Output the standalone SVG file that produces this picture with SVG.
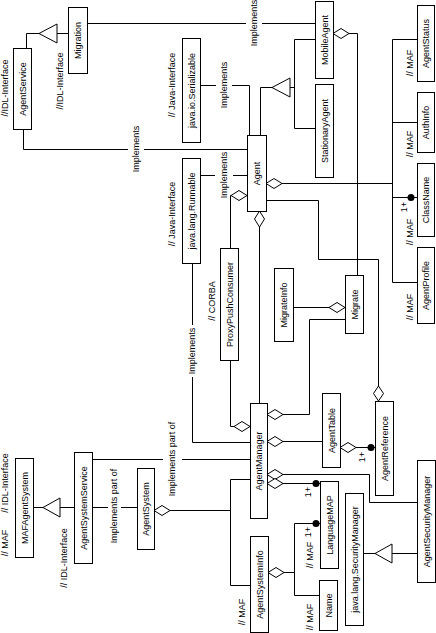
<svg xmlns="http://www.w3.org/2000/svg" width="436" height="633" viewBox="0 0 436 633">
<style>
.b{fill:#fff;stroke:#000;stroke-width:1}
.l{fill:none;stroke:#000;stroke-width:1}
.d{fill:#fff;stroke:#000;stroke-width:1}
.f{fill:#000;stroke:none}
.t{font-family:"Liberation Sans",Arial,sans-serif;font-size:9px;text-anchor:middle;dominant-baseline:central;fill:#000}
</style>
<rect width="436" height="633" fill="#fff"/>
<g id="connectors">
<path class="l" d="M68 33.5H57M39 33.5H26.5V48"/>
<polygon class="d" points="39,33.5 57,24 57,43"/>
<path class="l" d="M23.5 129V149.5H128M144 149.5H247"/>
<text class="t" transform="translate(136 149) rotate(-90)">Implements</text>
<path class="l" d="M87 23.5H246M262 23.5H315"/>
<text class="t" transform="translate(254 23) rotate(-90)">Implements</text>
<path class="l" d="M200 85.5H216M232 85.5H249.5V135"/>
<text class="t" transform="translate(224 85) rotate(-90)">Implements</text>
<path class="l" d="M200 175.5H215M233 175.5H247"/>
<text class="t" transform="translate(224 175) rotate(-90)">Implements</text>
<path class="l" d="M272 87.5H260.5V135M290 87.5H294.5M294.5 39.5V128.5M294.5 39.5H315M294.5 128.5H315"/>
<polygon class="d" points="272,87.5 290,78 290,97"/>
<path class="l" d="M231 195.5H230.5V248"/>
<polygon class="d" points="247,195.5 239,190.5 231,195.5 239,200.5"/>
<path class="l" d="M282 183.5H392.5"/>
<polygon class="d" points="266,183.5 274,178.5 282,183.5 274,188.5"/>
<path class="l" d="M266 200.5H318.5V259.5H378.5V386"/>
<polygon class="d" points="378.5,386 383.5,393.5 378.5,401 373.5,393.5"/>
<path class="l" d="M259.5 227V403"/>
<polygon class="d" points="259.5,211 264.5,219 259.5,227 254.5,219"/>
<path class="l" d="M349 33.5H357.5V275"/>
<polygon class="d" points="333,33.5 341,28.5 349,33.5 341,38.5"/>
<path class="l" d="M293 307.5H329"/>
<polygon class="d" points="329,307.5 337,302.5 345,307.5 337,312.5"/>
<path class="l" d="M345 319.5H309.5V414.5H283"/>
<polygon class="d" points="267,414.5 275,409.5 283,414.5 275,419.5"/>
<path class="l" d="M230.5 360V426.5H234"/>
<polygon class="d" points="234,426.5 242,421.5 250,426.5 242,431.5"/>
<path class="l" d="M192.5 263V325M192.5 377V442.5H250"/>
<text class="t" transform="translate(192 351) rotate(-90)">Implements</text>
<path class="l" d="M283 441.5H322"/>
<polygon class="d" points="267,441.5 275,436.5 283,441.5 275,446.5"/>
<path class="l" d="M356 447.5H375"/>
<polygon class="d" points="340,447.5 348,442.5 356,447.5 348,452.5"/>
<circle class="f" cx="371" cy="447.5" r="3.5"/>
<text class="t" transform="translate(362 457) rotate(-90)">1+</text>
<path class="l" d="M283 474.5H369.5V502.5H417"/>
<polygon class="d" points="267,474.5 275,469.5 283,474.5 275,479.5"/>
<path class="l" d="M283 483.5H320"/>
<polygon class="d" points="267,483.5 275,478.5 283,483.5 275,488.5"/>
<circle class="f" cx="316" cy="483.5" r="3.5"/>
<text class="t" transform="translate(308 492) rotate(-90)">1+</text>
<path class="l" d="M92 459.5H163M182 459.5H250"/>
<text class="t" transform="translate(172 459) rotate(-90)">Implements part of</text>
<path class="l" d="M33 507.5H43M60 507.5H74"/>
<polygon class="d" points="43,507.5 60,498 60,517"/>
<path class="l" d="M92 507.5H108M121 507.5H137"/>
<text class="t" transform="translate(114 506) rotate(-90)">Implements part of</text>
<path class="l" d="M170 510.5H230.5M230.5 479.5V585.5M230.5 479.5H250M230.5 585.5H250"/>
<polygon class="d" points="154,510.5 162,505.5 170,510.5 162,515.5"/>
<path class="l" d="M284 572.5H294.5M294.5 523.5V595.5M294.5 523.5H320M294.5 595.5H319"/>
<polygon class="d" points="268,572.5 276,567.5 284,572.5 276,577.5"/>
<circle class="f" cx="316" cy="523.5" r="3.5"/>
<text class="t" transform="translate(308 532) rotate(-90)">1+</text>
<path class="l" d="M363 553.5H375M392 553.5H417"/>
<polygon class="d" points="375,553.5 392,544 392,563"/>
<path class="l" d="M392.5 39.5V282.5M392.5 39.5H417M392.5 122.5H417M392.5 197.5H417M392.5 282.5H417"/>
<circle class="f" cx="411" cy="197.5" r="3.5"/>
<text class="t" transform="translate(404 207) rotate(-90)">1+</text>
</g>
<g id="AgentService"><rect class="b" x="13.5" y="48.5" width="18" height="81"/><text class="t" transform="translate(22.5 89) rotate(-90)">AgentService</text><text class="t" transform="translate(4.5 88) rotate(-90)">//IDL-Interface</text></g>
<g id="Migration"><rect class="b" x="68.5" y="7.5" width="19" height="66"/><text class="t" transform="translate(78 40.5) rotate(-90)">Migration</text><text class="t" transform="translate(60 81) rotate(-90)">//IDL-Interface</text></g>
<g id="MobileAgent"><rect class="b" x="315.5" y="1.5" width="18" height="77"/><text class="t" transform="translate(324.5 40) rotate(-90)">MobileAgent</text></g>
<g id="StationaryAgent"><rect class="b" x="315.5" y="84.5" width="18" height="93"/><text class="t" transform="translate(324.5 131) rotate(-90)">StationaryAgent</text></g>
<g id="Serializable"><rect class="b" x="182.5" y="38.5" width="18" height="104"/><text class="t" transform="translate(191.5 90.5) rotate(-90)">java.io.Serializable</text><text class="t" transform="translate(172 85) rotate(-90)">// Java-Interface</text></g>
<g id="Runnable"><rect class="b" x="182.5" y="158.5" width="18" height="105"/><text class="t" transform="translate(191.5 211) rotate(-90)">java.lang.Runnable</text><text class="t" transform="translate(172 214) rotate(-90)">// Java-Interface</text></g>
<g id="Agent"><rect class="b" x="247.5" y="135.5" width="19" height="76"/><text class="t" transform="translate(257 173.5) rotate(-90)">Agent</text></g>
<g id="ProxyPushConsumer"><rect class="b" x="220.5" y="248.5" width="18" height="112"/><text class="t" transform="translate(229.5 304.5) rotate(-90)">ProxyPushConsumer</text><text class="t" transform="translate(212 301) rotate(-90)">// CORBA</text></g>
<g id="MigrateInfo"><rect class="b" x="274.5" y="268.5" width="19" height="73"/><text class="t" transform="translate(284 305) rotate(-90)">MigrateInfo</text></g>
<g id="Migrate"><rect class="b" x="345.5" y="275.5" width="18" height="58"/><text class="t" transform="translate(354.5 304.5) rotate(-90)">Migrate</text></g>
<g id="AgentStatus"><rect class="b" x="417.5" y="5.5" width="17" height="76"/><text class="t" transform="translate(426 43.5) rotate(-90)">AgentStatus</text><text class="t" transform="translate(410 63) rotate(-90)">// MAF</text></g>
<g id="AuthInfo"><rect class="b" x="417.5" y="92.5" width="17" height="60"/><text class="t" transform="translate(426 122.5) rotate(-90)">AuthInfo</text><text class="t" transform="translate(410 144) rotate(-90)">// MAF</text></g>
<g id="ClassName"><rect class="b" x="417.5" y="163.5" width="17" height="73"/><text class="t" transform="translate(426 200) rotate(-90)">ClassName</text><text class="t" transform="translate(410 232) rotate(-90)">// MAF</text></g>
<g id="AgentProfile"><rect class="b" x="417.5" y="247.5" width="17" height="76"/><text class="t" transform="translate(426 285.5) rotate(-90)">AgentProfile</text><text class="t" transform="translate(410 307) rotate(-90)">// MAF</text></g>
<g id="AgentManager"><rect class="b" x="250.5" y="403.5" width="17" height="115"/><text class="t" transform="translate(259 461) rotate(-90)">AgentManager</text></g>
<g id="AgentTable"><rect class="b" x="322.5" y="393.5" width="18" height="74"/><text class="t" transform="translate(331.5 430.5) rotate(-90)">AgentTable</text></g>
<g id="AgentReference"><rect class="b" x="375.5" y="401.5" width="18" height="94"/><text class="t" transform="translate(384.5 448.5) rotate(-90)">AgentReference</text></g>
<g id="AgentSystemService"><rect class="b" x="74.5" y="452.5" width="18" height="111"/><text class="t" transform="translate(83.5 508) rotate(-90)">AgentSystemService</text><text class="t" transform="translate(64 558) rotate(-90)">// IDL-Interface</text></g>
<g id="MAFAgentSystem"><rect class="b" x="15.5" y="458.5" width="18" height="99"/><text class="t" transform="translate(24.5 508) rotate(-90)">MAFAgentSystem</text><text class="t" transform="translate(5 483) rotate(-90)">// IDL-Interface</text><text class="t" transform="translate(5 543) rotate(-90)">// MAF</text></g>
<g id="AgentSystem"><rect class="b" x="137.5" y="468.5" width="17" height="81"/><text class="t" transform="translate(146 509) rotate(-90)">AgentSystem</text></g>
<g id="AgentSystemInfo"><rect class="b" x="250.5" y="536.5" width="18" height="96"/><text class="t" transform="translate(259.5 584.5) rotate(-90)">AgentSystemInfo</text><text class="t" transform="translate(242 612) rotate(-90)">// MAF</text></g>
<g id="LanguageMAP"><rect class="b" x="320.5" y="481.5" width="18" height="87"/><text class="t" transform="translate(329.5 525) rotate(-90)">LanguageMAP</text><text class="t" transform="translate(310 555) rotate(-90)">// MAF</text></g>
<g id="Name"><rect class="b" x="319.5" y="580.5" width="18" height="50"/><text class="t" transform="translate(328.5 605.5) rotate(-90)">Name</text><text class="t" transform="translate(310 617) rotate(-90)">// MAF</text></g>
<g id="SecurityManager"><rect class="b" x="345.5" y="493.5" width="18" height="132"/><text class="t" transform="translate(354.5 559.5) rotate(-90)">java.lang.SecurityManager</text></g>
<g id="AgentSecurityManager"><rect class="b" x="417.5" y="460.5" width="18" height="122"/><text class="t" transform="translate(426.5 521.5) rotate(-90)">AgentSecurityManager</text></g>
</svg>
